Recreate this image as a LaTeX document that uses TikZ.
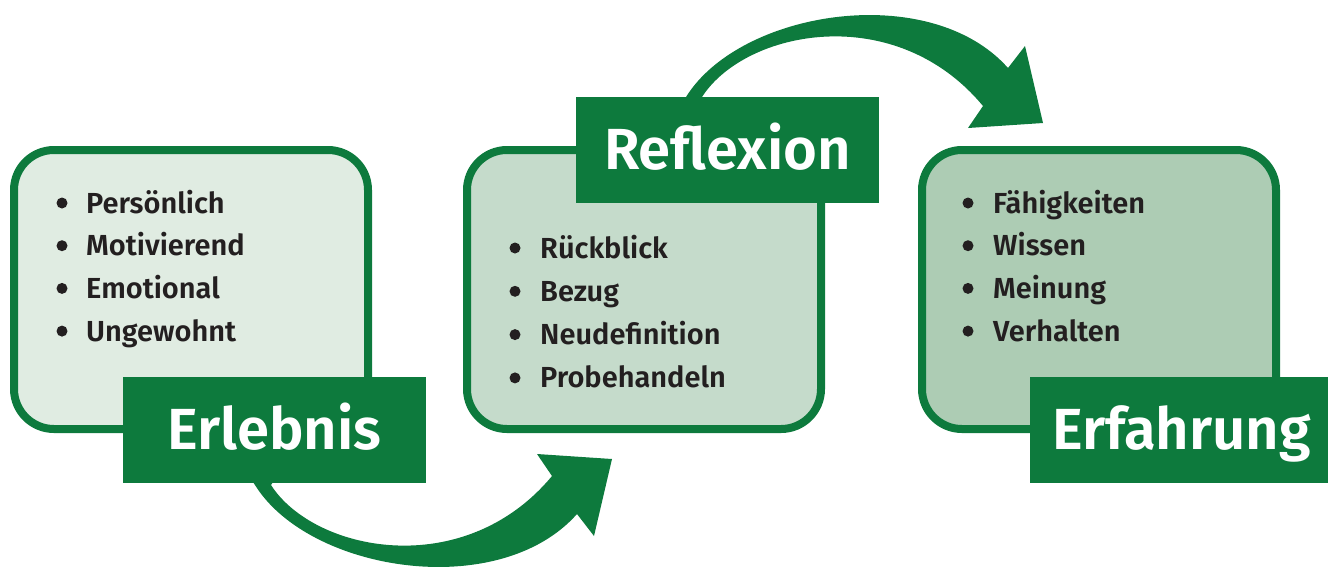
\documentclass[tikz,border=0pt]{standalone}
\usepackage{fontspec}
\newfontfamily\fsb{Fira Sans SemiBold}
\definecolor{dg}{RGB}{13,122,61}
\definecolor{fillA}{RGB}{224,236,226}
\definecolor{fillB}{RGB}{197,219,203}
\definecolor{fillC}{RGB}{173,204,180}
\definecolor{tx}{RGB}{35,31,32}
\begin{document}
\begin{tikzpicture}[x=1pt,y=-1pt,
  box/.style={draw=dg, line width=8pt, rounded corners=40pt, minimum width=354pt, minimum height=279pt, inner sep=0pt},
  lbl/.style={fill=dg, text=white, minimum width=303pt, minimum height=106pt, inner sep=0pt, text height=39pt, text depth=0pt, font=\fsb\fontsize{58}{60}\selectfont},
  item/.style={anchor=base west, inner sep=0pt, text=tx, font=\fsb\fontsize{29}{32}\selectfont},
  dot/.style={circle, fill=tx, minimum size=11pt, inner sep=0pt},
  arr/.style={fill=dg}]
\useasboundingbox (0,0) rectangle (1328,566);
% boxes
\node[box, fill=fillA] (b1) at (191,289.5) {};
\node[box, fill=fillB] (b2) at (644,289.5) {};
\node[box, fill=fillC] (b3) at (1099,289.5) {};
% arrows
\fill[arr] (680,106) -- (686,97) .. controls (740,10) and (930,-20) .. (1008,68)
  -- (1025,46) -- (1043,123) -- (968,128) -- (983,106)
  .. controls (895,0) and (745,30) .. (702,97) -- (708,106) -- cycle;
\fill[arr] (249,476) -- (255,485) .. controls (309,572) and (499,602) .. (577,514)
  -- (594,536) -- (612,459) -- (537,454) -- (552,476)
  .. controls (464,582) and (314,552) .. (271,485) -- (277,476) -- cycle;
% labels
\node[lbl] (l1) at (274.5,430) {Erlebnis};
\node[lbl] (l2) at (727.5,149.5) {Reflexion};
\node[lbl] (l3) at (1181.5,430) {Erfahrung};
% items
\foreach \t [count=\i] in {Persönlich,Motivierend,Emotional,Ungewohnt}{
  \pgfmathsetmacro\yy{213+(\i-1)*42.7}
  \node[dot] (da\i) at (62,\yy-10) {};
  \node[item] (ea\i) at (86,\yy) {\t};
}
\foreach \t [count=\i] in {Rückblick,Bezug,Neudefinition,Probehandeln}{
  \pgfmathsetmacro\yy{258+(\i-1)*43.3}
  \node[dot] (db\i) at (515,\yy-10) {};
  \node[item] (eb\i) at (540,\yy) {\t};
}
\foreach \t [count=\i] in {Fähigkeiten,Wissen,Meinung,Verhalten}{
  \pgfmathsetmacro\yy{213+(\i-1)*42.7}
  \node[dot] (dc\i) at (968,\yy-10) {};
  \node[item] (ec\i) at (993,\yy) {\t};
}
\end{tikzpicture}
\end{document}
